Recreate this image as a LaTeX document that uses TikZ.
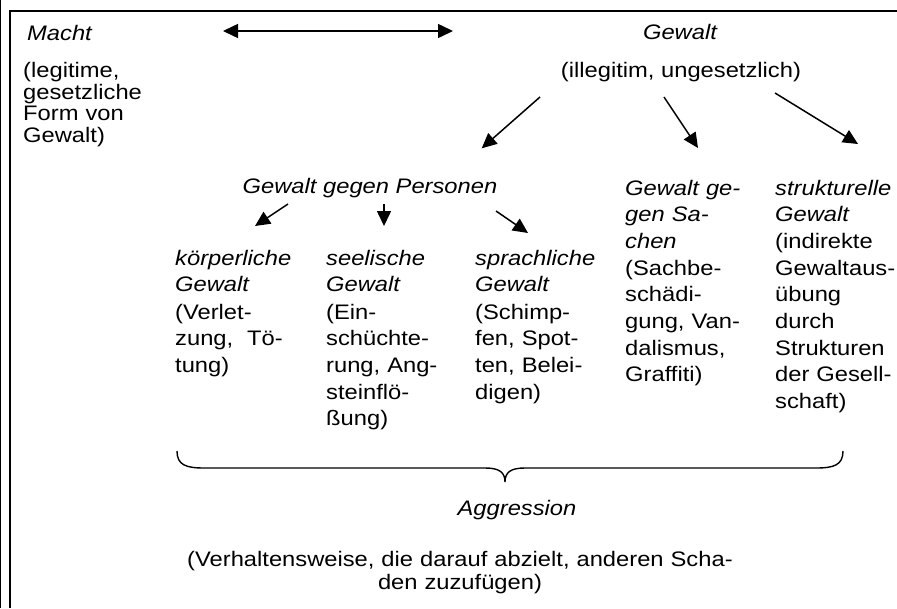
\documentclass[tikz,border=0pt]{standalone}
\usepackage{fontspec}
\setmainfont[FakeStretch=1.13]{Liberation Sans}
\usetikzlibrary{arrows.meta}
\begin{document}
\begin{tikzpicture}[x=1pt,y=-1pt,
  txt/.style={inner sep=0pt, anchor=base west, font=\fontsize{21}{26.7}\selectfont},
  col/.style={txt, text width=160pt, align=left},
  ctr/.style={inner sep=0pt, anchor=base, font=\fontsize{21}{22}\selectfont},
  tip/.style={Triangle[length=15pt,width=14pt]},
  arr/.style={line width=1.5pt, -{Triangle[length=15pt,width=14pt]}},
  frame/.style={line width=2pt}]
\useasboundingbox (0,0) rectangle (897,608);
% frame
\draw[frame] (10,11) -- (897,11);
\draw[frame] (10,10) -- (10,608);
\draw[line width=0.8pt] (0.4,0) -- (0.4,608);
% top row
\node[txt] (macht) at (27,40) {\itshape Macht};
\node[col, font=\fontsize{21}{21.7}\selectfont] (machtd) at (23,77.5) {(legitime,\\gesetzliche\\Form von\\Gewalt)};
\node[ctr] (gewalt) at (680,39) {\itshape Gewalt};
\node[ctr] (gewaltd) at (681,77.5) {(illegitim, ungesetzlich)};
\coordinate (da) at (223,31);
\coordinate (db) at (453,31);
\draw[line width=1.5pt, {Triangle[length=15pt,width=14pt]}-{Triangle[length=15pt,width=14pt]}] (da) -- (db);
% second level
\node[ctr] (pers) at (370,193) {\itshape Gewalt gegen Personen};
\node[col] (sachh) at (625,195) {\itshape Gewalt ge-\\gen Sa-\\chen};
\node[col] (sachd) at (625,275) {(Sachbe-\\schädi-\\gung, Van-\\dalismus,\\Graffiti)};
\node[col] (strh) at (775,195) {\itshape strukturelle\\Gewalt};
\node[col] (strd) at (775,248.3) {(indirekte\\Gewaltaus-\\übung\\durch\\Strukturen\\der Gesell-\\schaft)};
\coordinate (g1a) at (540,97);  \coordinate (g1b) at (481.7,148.3);
\coordinate (g2a) at (664,97);  \coordinate (g2b) at (698,148);
\coordinate (g3a) at (775,93);  \coordinate (g3b) at (858,144);
\draw[arr] (g1a) -- (g1b);
\draw[arr] (g2a) -- (g2b);
\draw[arr] (g3a) -- (g3b);
% third level
\node[col] (koerh) at (175,265) {\itshape körperliche\\Gewalt};
\node[col] (koerd) at (175,319) {(Verlet-\\zung,\ \ Tö-\\tung)};
\node[col] (seelh) at (326,265) {\itshape seelische\\Gewalt};
\node[col] (seeld) at (326,319) {(Ein-\\schüchte-\\rung, Ang-\\steinflö-\\ßung)};
\node[col] (sprh) at (475,265) {\itshape sprachliche\\Gewalt};
\node[col] (sprd) at (475,319) {(Schimp-\\fen, Spot-\\ten, Belei-\\digen)};
\coordinate (p1a) at (288,204); \coordinate (p1b) at (255,226);
\coordinate (p2a) at (384,204); \coordinate (p2b) at (384,226);
\coordinate (p3a) at (496,211); \coordinate (p3b) at (528,233);
\draw[arr] (p1a) -- (p1b);
\draw[arr] (p2a) -- (p2b);
\draw[arr] (p3a) -- (p3b);
% brace
\draw[line width=1.4pt] (177,451) .. controls (177,465) and (186,468) .. (204,468)
  -- (485,468) .. controls (499,468) and (505,472) .. (505,482)
  .. controls (505,472) and (511,468) .. (525,468)
  -- (816,468) .. controls (834,468) and (843,465) .. (843,451);
\node[ctr] (aggr) at (517,515) {\itshape Aggression};
\node[ctr, text width=620pt, align=center, font=\fontsize{21}{23}\selectfont] (def) at (460,566) {(Verhaltensweise, die darauf abzielt, anderen Scha-\\den zuzufügen)};
\end{tikzpicture}
\end{document}
